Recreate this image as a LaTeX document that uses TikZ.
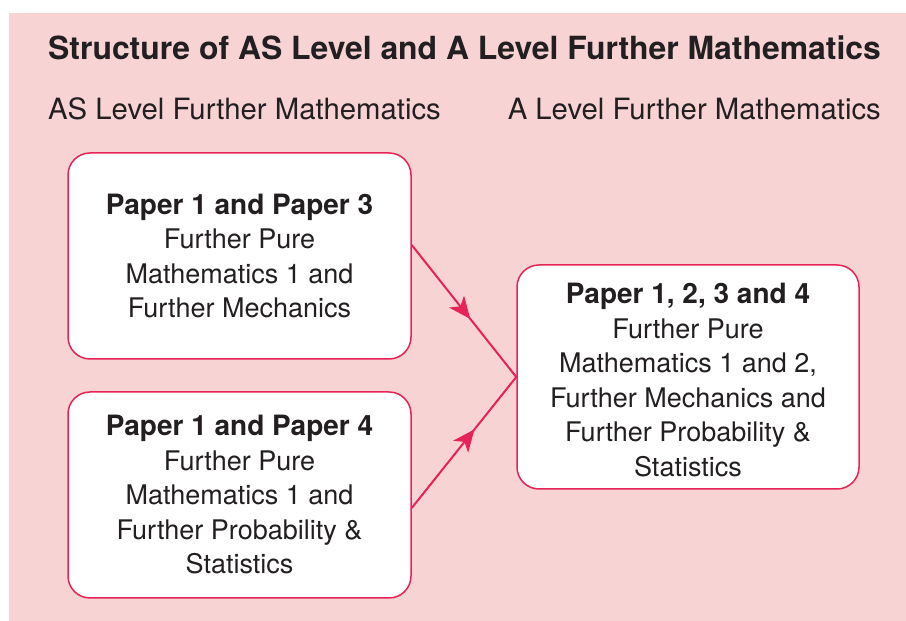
\documentclass[tikz,border=0pt]{standalone}
\usepackage{fontspec}
\setmainfont{TeX Gyre Heros}
\usetikzlibrary{arrows.meta,decorations.markings}

\definecolor{panelpink}{RGB}{247,211,211}
\definecolor{linkred}{RGB}{230,34,86}
\definecolor{inkgrey}{RGB}{35,31,32}

\newcommand*{\picw}{906}
\newcommand*{\pich}{621}
\newcommand*{\leftx}{239.5}
\newcommand*{\rightx}{688}
\newcommand*{\papertitlefont}{\bfseries\fontsize{28}{34.5}\selectfont}

\begin{document}
\begin{tikzpicture}
[
	x=1pt,y=1pt,
	paperbox/.style={draw=linkred,line width=1.5pt,fill=white,rounded corners=22pt,
		align=center,text=inkgrey,inner sep=0pt,minimum width=343pt,
		font=\fontsize{27}{34.5}\selectfont},
	levelhead/.style={inner sep=0pt,text=inkgrey,font=\fontsize{29.3}{34}\selectfont},
	midarrow/.style={draw=linkred,line width=2pt,postaction={decorate},
		decoration={markings,mark=at position #1 with {\arrow{Stealth[length=22pt,width=19pt,inset=6pt]}}}},
	midarrow/.default=0.58
]

	\useasboundingbox (0,0) rectangle (\picw,\pich);

	% background panel
	\fill[panelpink] (9,0) rectangle (\picw,608);

	% headings
	\node[levelhead,anchor=base west,font=\bfseries\fontsize{31.9}{36}\selectfont] (title) at (48,561)
		{Structure of AS Level and A Level Further Mathematics};
	\node[levelhead,anchor=base west] (ashead) at (48,501) {AS Level Further Mathematics};
	\node[levelhead,anchor=base east] (ahead) at (881,501) {A Level Further Mathematics};

	% papers
	\node[paperbox,minimum height=206pt] (p13) at (\leftx,365)
		{{\papertitlefont Paper 1 and Paper 3}\\Further Pure\\Mathematics 1 and\\Further Mechanics};
	\node[paperbox,minimum height=206pt] (p14) at (\leftx,126)
		{{\papertitlefont Paper 1 and Paper 4}\\Further Pure\\Mathematics 1 and\\Further Probability \&\\Statistics};
	\node[paperbox,minimum width=342pt,minimum height=224pt] (p1234) at (\rightx,244)
		{{\papertitlefont\rule{0pt}{26pt}Paper 1, 2, 3 and 4}\\Further Pure\\Mathematics 1 and 2,\\Further Mechanics and\\Further Probability \&\\Statistics};

	% links
	\draw[midarrow=0.56] ([yshift=11pt]p13.east) -- (p1234.west);
	\draw[midarrow=0.6] ([yshift=-13pt]p14.east) -- (p1234.west);

\end{tikzpicture}
\end{document}
